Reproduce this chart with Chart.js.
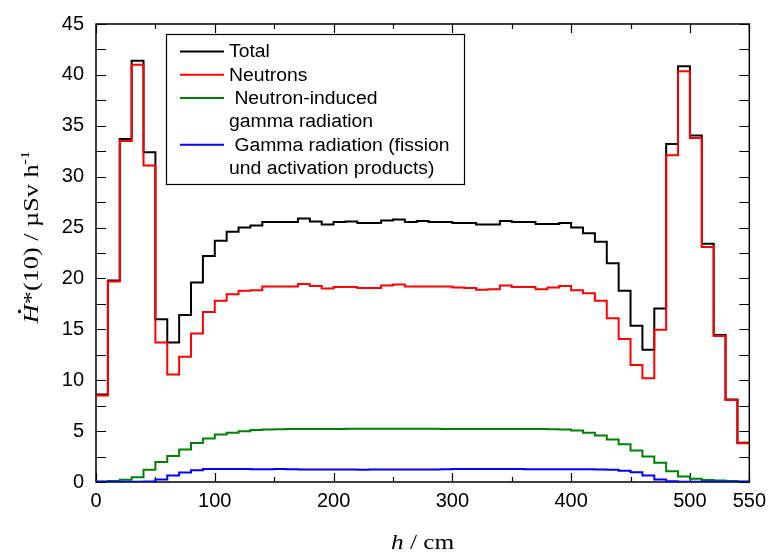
<!DOCTYPE html>
<html>
<head>
<meta charset="utf-8">
<script src="https://cdn.jsdelivr.net/npm/chart.js@4.4.1/dist/chart.umd.min.js"></script>
<style>
  html, body { margin: 0; padding: 0; background: #fff; }
</style>
</head>
<body>
<canvas id="doseChart" width="773" height="556"></canvas>
<script>
// bin edges along the height h (cm), 10 cm bins
const h = [0, 10, 20, 30, 40, 50, 60, 70, 80, 90, 100, 110, 120, 130, 140, 150,
  160, 170, 180, 190, 200, 210, 220, 230, 240, 250, 260, 270, 280, 290, 300,
  310, 320, 330, 340, 350, 360, 370, 380, 390, 400, 410, 420, 430, 440, 450,
  460, 470, 480, 490, 500, 510, 520, 530, 540, 550];

// dose rate per bin, µSv/h
const total = [8.6, 19.8, 33.7, 41.4, 32.4, 16.0, 13.7, 16.4, 19.6, 22.2,
  23.7, 24.6, 25.0, 25.2, 25.55, 25.55, 25.55, 25.9, 25.6, 25.3,
  25.55, 25.6, 25.45, 25.45, 25.7, 25.8, 25.55, 25.65, 25.55, 25.55,
  25.45, 25.45, 25.3, 25.3, 25.65, 25.55, 25.55, 25.35, 25.35, 25.45,
  25.0, 24.45, 23.6, 21.5, 18.8, 15.35, 13.0, 17.05, 33.2, 40.85,
  34.05, 23.4, 14.45, 8.1, 3.86];

const neutrons = [8.5, 19.7, 33.5, 41.0, 31.1, 13.7, 10.55, 12.3, 14.6, 16.7,
  17.8, 18.45, 18.8, 18.85, 19.2, 19.2, 19.2, 19.45, 19.25, 19.0,
  19.15, 19.15, 19.05, 19.05, 19.3, 19.4, 19.2, 19.2, 19.2, 19.2,
  19.1, 19.07, 18.9, 18.95, 19.3, 19.15, 19.15, 18.95, 19.1, 19.25,
  18.85, 18.55, 17.8, 16.1, 14.05, 11.5, 10.2, 14.95, 32.1, 40.35,
  33.8, 23.1, 14.35, 8.05, 3.8];

const gammaInduced = [0.05, 0.1, 0.22, 0.47, 1.2, 1.97, 2.55, 3.19, 3.82, 4.27,
  4.67, 4.85, 4.98, 5.1, 5.15, 5.18, 5.2, 5.2, 5.2, 5.21,
  5.21, 5.22, 5.22, 5.22, 5.22, 5.22, 5.22, 5.22, 5.22, 5.21,
  5.21, 5.21, 5.2, 5.2, 5.2, 5.2, 5.2, 5.2, 5.19, 5.15,
  5.05, 4.83, 4.58, 4.18, 3.7, 3.1, 2.5, 1.9, 1.05, 0.55,
  0.32, 0.2, 0.14, 0.1, 0.06];

const gammaFission = [0.02, 0.02, 0.02, 0.02, 0.05, 0.25, 0.65, 0.93, 1.15, 1.28,
  1.28, 1.27, 1.27, 1.26, 1.26, 1.27, 1.26, 1.24, 1.22, 1.22,
  1.23, 1.22, 1.21, 1.22, 1.23, 1.22, 1.22, 1.22, 1.24, 1.26,
  1.28, 1.28, 1.27, 1.27, 1.27, 1.27, 1.26, 1.26, 1.26, 1.26,
  1.25, 1.25, 1.24, 1.2, 1.1, 0.95, 0.64, 0.25, 0.07, 0.03,
  0.02, 0.02, 0.02, 0.02, 0.02];

const xTicks = [0, 100, 200, 300, 400, 500, 550];
const yTicks = [0, 5, 10, 15, 20, 25, 30, 35, 40, 45];

const SANS = '"Liberation Sans", Arial, sans-serif';
const SERIF = '"Liberation Serif", "Times New Roman", serif';

// one point per left bin edge, last edge repeats the last bin so the step reaches 550
function stepPoints(vals) {
  return h.map((x, i) => ({ x, y: vals[Math.min(i, vals.length - 1)] }));
}

function series(label, vals, color, order) {
  return {
    label,
    data: stepPoints(vals),
    borderColor: color,
    backgroundColor: color,
    borderWidth: 2,
    stepped: 'before',
    pointRadius: 0,
    fill: false,
    order
  };
}

// box + inward ticks on all four sides
const frame = {
  id: 'frame',
  beforeDatasetsDraw(chart) {
    const { ctx, chartArea: a, scales: { x, y } } = chart;
    ctx.save();
    ctx.strokeStyle = '#000';
    ctx.lineWidth = 1.5;
    ctx.strokeRect(a.left, a.top, a.right - a.left, a.bottom - a.top);
    ctx.lineWidth = 1.2;
    ctx.beginPath();
    for (let v = 0; v <= 550; v += 50) {
      const px = Math.round(x.getPixelForValue(v)) + 0.5;
      const len = v % 100 === 0 ? 9 : 5;
      ctx.moveTo(px, a.bottom); ctx.lineTo(px, a.bottom - len);
      ctx.moveTo(px, a.top); ctx.lineTo(px, a.top + len);
    }
    for (let v = 0; v <= 45; v += 2.5) {
      const py = Math.round(y.getPixelForValue(v)) + 0.5;
      ctx.moveTo(a.left, py); ctx.lineTo(a.left + 10, py);
      ctx.moveTo(a.right, py); ctx.lineTo(a.right - 10, py);
    }
    ctx.stroke();
    ctx.restore();
  }
};

// framed legend in the upper left, labels may wrap with \n
const legendBox = {
  id: 'legendBox',
  afterDatasetsDraw(chart) {
    const { ctx } = chart;
    const left = 166, top = 34, w = 298, hgt = 150;
    const rowH = 23.3;
    ctx.save();
    ctx.fillStyle = '#fff';
    ctx.fillRect(left, top, w, hgt);
    ctx.strokeStyle = '#000';
    ctx.lineWidth = 1.2;
    ctx.strokeRect(left + 0.5, top + 0.5, w, hgt);
    ctx.font = '18px ' + SANS;
    ctx.textBaseline = 'middle';
    ctx.fillStyle = '#000';
    let row = 0;
    chart.data.datasets.forEach(ds => {
      const yMid = top + 17.5 + row * rowH;
      ctx.strokeStyle = ds.borderColor;
      ctx.lineWidth = 2;
      ctx.beginPath();
      ctx.moveTo(180, yMid);
      ctx.lineTo(224, yMid);
      ctx.stroke();
      ds.label.split('\n').forEach(line => {
        ctx.save();
        ctx.translate(229, top + 18.5 + row * rowH);
        ctx.scale(1.075, 1);
        ctx.fillText(line, 0, 0);
        ctx.restore();
        row++;
      });
    });
    ctx.restore();
  }
};

// draws a run of differently styled pieces centred on (0,0) of the current transform
function drawRich(ctx, parts) {
  let width = 0;
  parts.forEach(p => { ctx.font = p.font; p.w = ctx.measureText(p.text).width; width += p.w; });
  let x = -width / 2;
  parts.forEach(p => {
    ctx.font = p.font;
    ctx.fillText(p.text, x, p.dy || 0);
    p.x = x;
    x += p.w;
  });
  return parts;
}

const axisTitles = {
  id: 'axisTitles',
  afterDraw(chart) {
    const { ctx, chartArea: a } = chart;
    ctx.save();
    ctx.fillStyle = '#000';
    ctx.textBaseline = 'alphabetic';
    ctx.textAlign = 'left';

    // x title
    ctx.save();
    ctx.translate((a.left + a.right) / 2, 549);
    ctx.scale(1.15, 1);
    drawRich(ctx, [
      { text: 'h', font: 'italic 22px ' + SERIF },
      { text: ' / cm', font: '22px ' + SERIF }
    ]);
    ctx.restore();

    // y title, rotated
    ctx.save();
    ctx.translate(38, 237);
    ctx.rotate(-Math.PI / 2);
    ctx.scale(1.25, 1);
    const parts = drawRich(ctx, [
      { text: 'H', font: 'italic 21px ' + SERIF },
      { text: '*(10) / µSv h', font: '21px ' + SERIF },
      { text: '-1', font: '13px ' + SERIF, dy: -9 }
    ]);
    // dot above the H
    const H = parts[0];
    ctx.beginPath();
    ctx.arc(H.x + H.w * 0.62, -18.5, 1.5, 0, Math.PI * 2);
    ctx.fill();
    ctx.restore();

    ctx.restore();
  }
};

new Chart(document.getElementById('doseChart'), {
  type: 'line',
  data: {
    datasets: [
      series('Total', total, '#000000', 4),
      series('Neutrons', neutrons, '#ff0000', 3),
      series(' Neutron-induced\ngamma radiation', gammaInduced, '#008000', 2),
      series(' Gamma radiation (fission\nund activation products)', gammaFission, '#0000ff', 1)
    ]
  },
  options: {
    responsive: false,
    animation: false,
    devicePixelRatio: 1,
    layout: { padding: { top: 22, right: 22, left: 0, bottom: 0 } },
    plugins: {
      legend: { display: false },
      tooltip: { enabled: false }
    },
    scales: {
      x: {
        type: 'linear',
        min: 0,
        max: 550,
        afterBuildTicks: s => { s.ticks = xTicks.map(v => ({ value: v })); },
        afterFit: s => { s.height = 74; },
        grid: { display: false, drawTicks: false },
        border: { display: false },
        ticks: {
          color: '#000',
          font: { family: SANS, size: 20 },
          padding: 7,
          maxRotation: 0,
          autoSkip: false
        }
      },
      y: {
        min: 0,
        max: 45,
        afterBuildTicks: s => { s.ticks = yTicks.map(v => ({ value: v })); },
        afterFit: s => { s.width = 96; },
        grid: { display: false, drawTicks: false },
        border: { display: false },
        ticks: {
          color: '#000',
          font: { family: SANS, size: 20 },
          padding: 12
        }
      }
    }
  },
  plugins: [frame, legendBox, axisTitles]
});
</script>
</body>
</html>
